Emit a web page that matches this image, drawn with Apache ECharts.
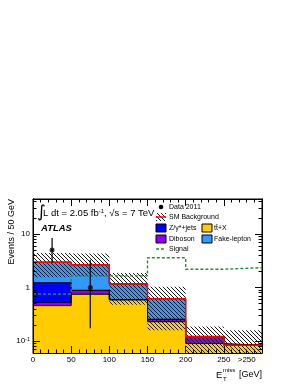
<!DOCTYPE html>
<html><head><meta charset="utf-8">
<script src="https://cdn.jsdelivr.net/npm/echarts@6/dist/echarts.min.js"></script>
<style>html,body{margin:0;padding:0;background:#fff}#c{width:298px;height:385px}</style>
</head><body><div id="c"></div>
<script>
// ---- data ----
const binEdges   = [0, 50, 100, 150, 200, 250, 300];
const ttbarX     = [0.46, 0.75, 0.59, 0.23, 0.09, 0.084];
const diboson    = [0.07, 0.13, 0.005, 0.025, 0.032, 0.0];
const zJets      = [0.70, 0.01, 0.0, 0.0, 0.0, 0.0];
const fakeLepton = [1.75, 1.78, 0.575, 0.365, 0.0, 0.0];
const bandLow    = [1.55, 1.62, 0.48, 0.16, 0.03, 0.03];
const bandHigh   = [4.4, 4.3, 1.87, 1.03, 0.187, 0.16];
const signal     = [0.76, 1.65, 1.65, 3.6, 2.2, 2.35];
const dataX      = [25, 75];
const dataY      = [5, 1];
const dataLow    = [2.84, 0.173];
const dataHigh   = [8.38, 3.30];
const xLabelValues = [0, 50, 100, 150, 200, 250, 280];
const xLabelTexts  = ['0', '50', '100', '150', '200', '250', '>250'];
const yMajorTicks  = [0.1, 1, 10];
const yMinorTicks  = [0.07, 0.08, 0.09, 0.2, 0.3, 0.4, 0.5, 0.6, 0.7, 0.8, 0.9, 2, 3, 4, 5, 6, 7, 8, 9, 20, 30, 40];

const FONT = '"Liberation Sans", Arial, Helvetica, sans-serif';
const C_TT = '#ffcc00', C_DB = '#8c00f0', C_Z = '#0000ff', C_FAKE = '#3399ff', C_SIG = '#2e8b2e';

function hatchCanvas(color) {
  const c = document.createElement('canvas');
  c.width = 4; c.height = 4;
  const g = c.getContext('2d');
  g.strokeStyle = color; g.lineWidth = 1;
  g.beginPath();
  g.moveTo(-1, -1); g.lineTo(5, 5);
  g.moveTo(-1, 3); g.lineTo(1, 5);
  g.moveTo(3, -1); g.lineTo(5, 1);
  g.stroke();
  return c;
}
const hatch = { image: hatchCanvas('#1a1a1a'), repeat: 'repeat' };

const nb = binEdges.length - 1;
function cum(...arrs) { return Array.from({ length: nb }, (_, i) => arrs.reduce((s, a) => s + a[i], 0)); }
const cTT = cum(ttbarX);
const cDB = cum(ttbarX, diboson);
const cZ = cum(ttbarX, diboson, zJets);
const cTot = cum(ttbarX, diboson, zJets, fakeLepton);

const FLOOR = 1e-4;
function stepData(vals) {
  const d = vals.map((v, i) => [binEdges[i], Math.max(v, FLOOR)]);
  d.push([binEdges[nb], Math.max(vals[nb - 1], FLOOR)]);
  return d;
}
function fillSeries(name, vals, color, z2) {
  return { type: 'line', name, data: stepData(vals), step: 'end', symbol: 'none', z: 2,
    lineStyle: { color: '#000', width: 1 }, areaStyle: { color, opacity: 1, origin: 'start' },
    clip: true, silent: true, xAxisIndex: 0, yAxisIndex: 0 };
}

const series = [
  fillSeries('Fake-lepton', cTot, C_FAKE),
  fillSeries('Z/γ*+jets', cZ, C_Z),
  fillSeries('Diboson', cDB, C_DB),
  fillSeries('tt+X', cTT, C_TT),
  { type: 'custom', name: 'band', clip: true, silent: true, z: 3, xAxisIndex: 0, yAxisIndex: 0,
    data: bandLow.map((lo, i) => [binEdges[i], binEdges[i + 1], lo, bandHigh[i]]),
    encode: { x: [0, 1], y: [2, 3] },
    renderItem(params, api) {
      const p0 = api.coord([api.value(0), api.value(3)]);
      const p1 = api.coord([api.value(1), api.value(2)]);
      return { type: 'rect', shape: { x: p0[0], y: p0[1], width: p1[0] - p0[0], height: p1[1] - p0[1] },
        style: { fill: hatch, stroke: null } };
    } },
  { type: 'line', name: 'SM Background', data: stepData(cTot), step: 'end', symbol: 'none', clip: true, silent: true, z: 4,
    lineStyle: { color: '#ff0000', width: 1.5 } },
  { type: 'line', name: 'Signal', data: stepData(signal), step: 'end', symbol: 'none', clip: true, silent: true, z: 5,
    lineStyle: { color: C_SIG, width: 1.4, type: [3, 2] } },
  { type: 'custom', name: 'errors', clip: true, silent: true, z: 6,
    data: dataX.map((x, i) => [x, dataLow[i], dataHigh[i]]),
    encode: { x: 0, y: [1, 2] },
    renderItem(params, api) {
      const a = api.coord([api.value(0), api.value(1)]);
      const b = api.coord([api.value(0), api.value(2)]);
      return { type: 'line', shape: { x1: a[0], y1: a[1], x2: b[0], y2: b[1] }, style: { stroke: '#000', lineWidth: 1.2 } };
    } },
  { type: 'scatter', name: 'Data 2011', data: dataX.map((x, i) => [x, dataY[i]]), symbol: 'circle', symbolSize: 5, z: 7,
    itemStyle: { color: '#000' }, silent: true }
];

const tickLine = { color: '#000', width: 1 };
function xAx(pos, labels) {
  return { type: 'value', min: 0, max: 300, interval: 50, position: pos, z: 10,
    axisLine: { show: true, lineStyle: tickLine },
    axisTick: { show: true, inside: true, length: 7, lineStyle: tickLine },
    minorTick: { show: true, splitNumber: 5, length: 3.5, lineStyle: tickLine },
    splitLine: { show: false },
    axisLabel: labels ? { show: true, customValues: xLabelValues, color: '#000', fontSize: 8, fontFamily: FONT, margin: 3,
      formatter: v => xLabelTexts[xLabelValues.indexOf(v)] } : { show: false } };
}
function yAx(pos, ticks, len, labels) {
  return { type: 'log', logBase: 10, min: 0.06, max: 45, position: pos, z: 10,
    axisLine: { show: true, lineStyle: tickLine },
    axisTick: { show: true, inside: true, length: len, customValues: ticks, lineStyle: tickLine },
    minorTick: { show: false }, splitLine: { show: false },
    axisLabel: labels ? { show: true, customValues: yMajorTicks, color: '#000', fontFamily: FONT, margin: 3,
      formatter: v => v < 0.5 ? '{a|10}{b|-1}' : (v < 5 ? '{a|1}' : '{a|10}'),
      rich: { a: { fontSize: 8, fontFamily: FONT, color: '#000' }, b: { fontSize: 5.5, fontFamily: FONT, color: '#000', verticalAlign: 'top', padding: [0, 0, 4, 0] } } } : { show: false } };
}

const LX = 156, LX2 = 202, LT = 169, LT2 = 214, LF = 7;
function ltext(x, y, t) { return { type: 'text', x, y, style: { text: t, font: LF + 'px ' + FONT, fill: '#000', textAlign: 'left', textVerticalAlign: 'middle' } }; }
function lbox(x, y, c) { return { type: 'rect', shape: { x, y: y - 4, width: 10, height: 8 }, style: { fill: c, stroke: '#000', lineWidth: 1 } }; }

const graphic = [
  // axis titles
  { type: 'text', x: 12, y: 199, rotation: Math.PI / 2, style: { text: 'Events / 50 GeV', font: '9px ' + FONT, fill: '#000', textAlign: 'right', textVerticalAlign: 'middle' } },
  { type: 'text', x: 262, y: 375, style: { text: '[GeV]', font: '9px ' + FONT, fill: '#000', textAlign: 'right', textVerticalAlign: 'middle' } },
  { type: 'text', x: 216, y: 375, style: { text: 'E', font: '9.5px ' + FONT, fill: '#000', textAlign: 'left', textVerticalAlign: 'middle' } },
  { type: 'text', x: 223, y: 370, style: { text: 'miss', font: '6px ' + FONT, fill: '#000', textAlign: 'left', textVerticalAlign: 'middle' } },
  { type: 'text', x: 223, y: 379, style: { text: 'T', font: '6px ' + FONT, fill: '#000', textAlign: 'left', textVerticalAlign: 'middle' } },
  // lumi + ATLAS
  { type: 'text', x: 37, y: 213, style: { text: '∫', font: '17px "DejaVu Sans", ' + FONT, fill: '#000', textAlign: 'left', textVerticalAlign: 'middle' } },
  { type: 'text', x: 43, y: 213, style: { text: '{n|L dt = 2.05 fb}{s|-1}{n|, √s = 7 TeV}', textAlign: 'left', textVerticalAlign: 'middle',
      rich: { n: { fontSize: 9.5, fontFamily: FONT, color: '#000' }, s: { fontSize: 6, fontFamily: FONT, color: '#000', verticalAlign: 'top', padding: [0, 0, 4, 0] } } } },
  { type: 'text', x: 41, y: 228, style: { text: 'ATLAS', font: 'italic bold 9.5px ' + FONT, fill: '#000', textAlign: 'left', textVerticalAlign: 'middle' } },
  // legend
  { type: 'circle', shape: { cx: 161, cy: 207, r: 2.3 }, style: { fill: '#000' } },
  ltext(LT, 207, 'Data 2011'),
  { type: 'rect', shape: { x: LX, y: 213, width: 10, height: 8 }, style: { fill: hatch, stroke: null } },
  { type: 'line', shape: { x1: LX, y1: 217, x2: LX + 10, y2: 217 }, style: { stroke: '#ff0000', lineWidth: 1.5 } },
  ltext(LT, 217, 'SM Background'),
  lbox(LX, 228, C_Z), ltext(LT, 228, 'Z/γ*+jets'),
  lbox(LX2, 228, C_TT), ltext(LT2, 228, 'tt\u0304+X'),
  lbox(LX, 239, C_DB), ltext(LT, 239, 'Diboson'),
  lbox(LX2, 239, C_FAKE), ltext(LT2, 239, 'Fake-lepton'),
  { type: 'line', shape: { x1: LX, y1: 249, x2: LX + 10, y2: 249 }, style: { stroke: C_SIG, lineWidth: 1.4, lineDash: [3, 2] } },
  ltext(LT, 249, 'Signal')
];

const chart = echarts.init(document.getElementById('c'), null, { renderer: 'canvas' });
chart.setOption({
  animation: false,
  backgroundColor: '#fff',
  grid: { left: 33, right: 36, top: 199, bottom: 32, show: true, borderColor: '#000', borderWidth: 1, backgroundColor: 'transparent' },
  xAxis: [xAx('bottom', true), xAx('top', false)],
  yAxis: [yAx('left', yMajorTicks, 7, true), yAx('left', yMinorTicks, 3.5, false), yAx('right', yMajorTicks, 7, false), yAx('right', yMinorTicks, 3.5, false)],
  series,
  graphic
});
</script></body></html>
